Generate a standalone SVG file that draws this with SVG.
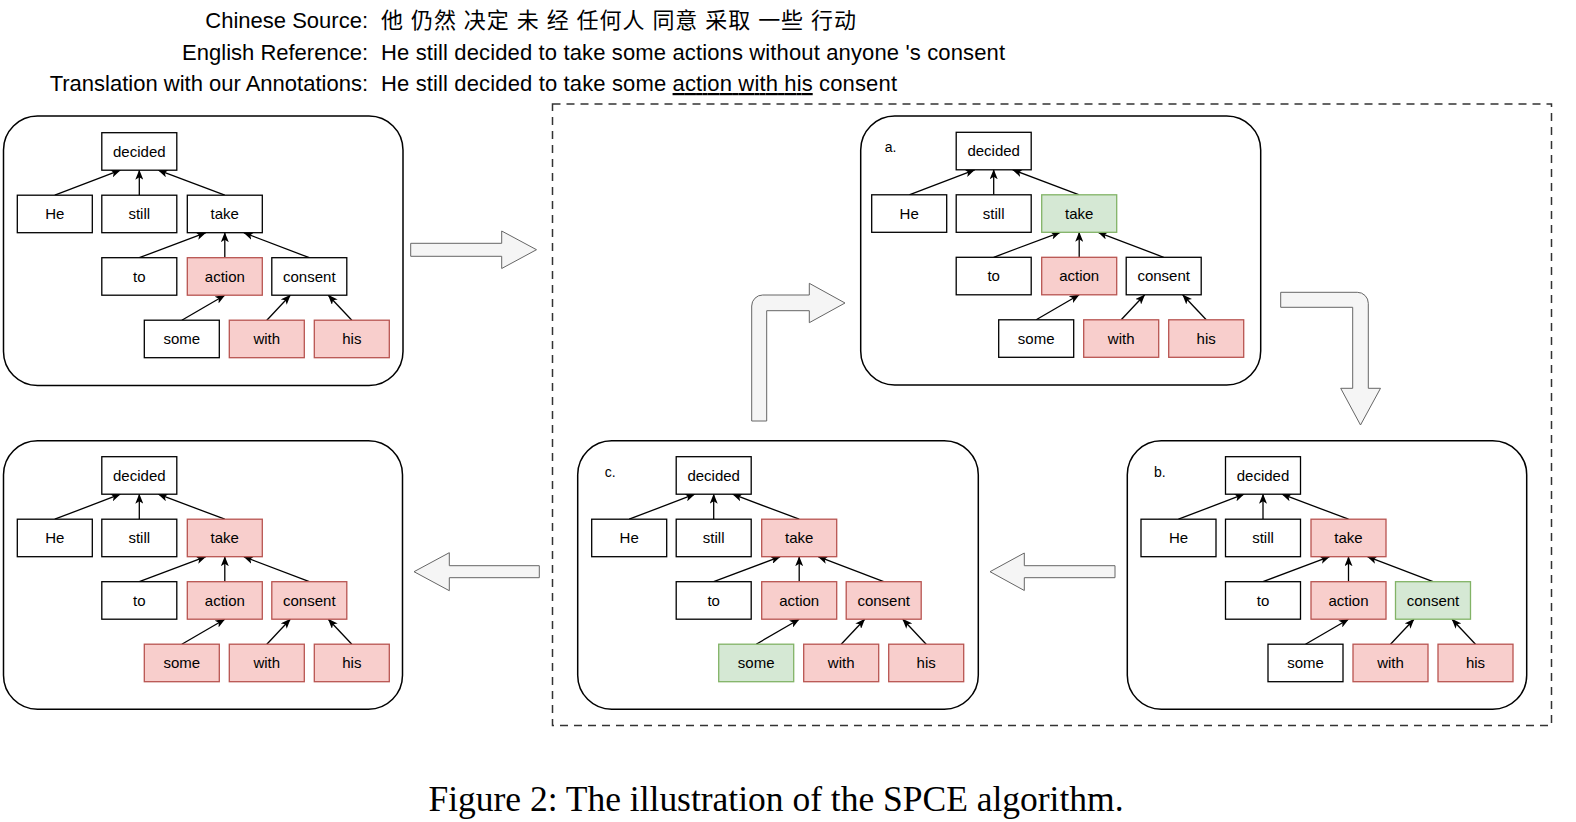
<svg xmlns="http://www.w3.org/2000/svg" xmlns:xlink="http://www.w3.org/1999/xlink" width="1576" height="822" viewBox="0 0 1576 822">
<style>
.hdr{font-family:"Liberation Sans",Arial,"Noto Sans CJK SC",sans-serif;font-size:22px;fill:#000}
.cap{font-family:"Liberation Serif","Times New Roman",serif;font-size:35.5px;fill:#000;text-anchor:middle}
.panel{fill:#fff;stroke:#000;stroke-width:1.5}
.n{fill:#fff;stroke:#000;stroke-width:1.3}
.r{fill:#f8cecc;stroke:#b85450;stroke-width:1.3}
.g{fill:#d5e8d4;stroke:#82b366;stroke-width:1.3}
.t{font-family:"Liberation Sans",Arial,sans-serif;font-size:15px;fill:#000;text-anchor:middle}
.lbl{font-family:"Liberation Sans",Arial,sans-serif;font-size:14px;fill:#000}
.e{stroke:#000;stroke-width:1.3;fill:none;marker-end:url(#ah)}
.big{fill:#f5f5f5;stroke:#666;stroke-width:1}
.dash{fill:none;stroke:#333;stroke-width:1.5;stroke-dasharray:8 6}
</style>
<defs>
<marker id="ah" markerUnits="userSpaceOnUse" viewBox="0 0 10 8" markerWidth="10" markerHeight="8" refX="9.5" refY="4" orient="auto">
<path d="M0,0 L10,4 L0,8 L2.5,4 Z" fill="#000"/>
</marker>
</defs>
<rect width="1576" height="822" fill="#fff"/>

<g id="header">
<text class="hdr" x="368" y="28" text-anchor="end">Chinese Source:</text>
<text class="hdr" x="381" y="28" textLength="475">他 仍然 决定 未 经 任何人 同意 采取 一些 行动</text>
<text class="hdr" x="368" y="60" text-anchor="end">English Reference:</text>
<text class="hdr" x="381" y="60" textLength="624">He still decided to take some actions without anyone 's consent</text>
<text class="hdr" x="368" y="91" text-anchor="end">Translation with our Annotations:</text>
<text class="hdr" x="381" y="91" textLength="516">He still decided to take some <tspan text-decoration="underline">action with his</tspan> consent</text>
</g>

<rect id="dashed-box" class="dash" x="552.5" y="104" width="999" height="621.5"/>

<g id="panel-boxes">
<rect id="panel-1" class="panel" x="3.5" y="116" width="399.5" height="269.5" rx="34"/>
<rect id="panel-a" class="panel" x="860.7" y="116" width="400" height="269" rx="34"/>
<rect id="panel-b" class="panel" x="1127.3" y="440.7" width="399.4" height="268.6" rx="34"/>
<rect id="panel-c" class="panel" x="577.7" y="440.7" width="400.6" height="268.6" rx="34"/>
<rect id="panel-4" class="panel" x="3.5" y="440.7" width="399" height="268.6" rx="34"/>
</g>

<g id="big-arrows">
<path id="arrow-1-a" class="big" d="M410.7,243.3 H501.7 V231 L536.5,249.7 L501.7,268.5 V256.3 H410.7 Z"/>
<path id="arrow-c-a" class="big" d="M751.7,421 V306 A11,11 0 0 1 762.7,295 H809.3 V283.3 L845,303 L809.3,322.7 V310.7 H766.7 V421 Z"/>
<path id="arrow-a-b" class="big" d="M1280.7,292.3 H1357.3 A11,11 0 0 1 1368.3,303.3 V388.3 H1380.5 L1360.5,425 L1340.7,388.3 H1352.7 V307.3 H1280.7 Z"/>
<path id="arrow-b-c" class="big" d="M1115,565.7 H1024.3 V553 L990,571.7 L1024.3,590.5 V577.7 H1115 Z"/>
<path id="arrow-c-4" class="big" d="M539.3,565.7 H449.3 V552.7 L414,571.7 L449.3,590.7 V577.7 H539.3 Z"/>
</g>

<g id="connectors">
<g transform="translate(17.3,132.7)">
<path class="e" d="M37.5,62.5 L103,37.5"/><path class="e" d="M122,62.5 L122,37.5"/><path class="e" d="M207.5,62.5 L141,37.5"/>
<path class="e" d="M122,125 L188.5,100"/><path class="e" d="M207.5,125 L207.5,100"/><path class="e" d="M292,125 L226.5,100"/>
<path class="e" d="M164.5,187.5 L207.5,162.5"/><path class="e" d="M249.5,187.5 L273,162.5"/><path class="e" d="M334.5,187.5 L311,162.5"/>
</g>
<g transform="translate(871.7,132.3)">
<path class="e" d="M37.5,62.5 L103,37.5"/><path class="e" d="M122,62.5 L122,37.5"/><path class="e" d="M207.5,62.5 L141,37.5"/>
<path class="e" d="M122,125 L188.5,100"/><path class="e" d="M207.5,125 L207.5,100"/><path class="e" d="M292,125 L226.5,100"/>
<path class="e" d="M164.5,187.5 L207.5,162.5"/><path class="e" d="M249.5,187.5 L273,162.5"/><path class="e" d="M334.5,187.5 L311,162.5"/>
</g>
<g transform="translate(1141,456.7)">
<path class="e" d="M37.5,62.5 L103,37.5"/><path class="e" d="M122,62.5 L122,37.5"/><path class="e" d="M207.5,62.5 L141,37.5"/>
<path class="e" d="M122,125 L188.5,100"/><path class="e" d="M207.5,125 L207.5,100"/><path class="e" d="M292,125 L226.5,100"/>
<path class="e" d="M164.5,187.5 L207.5,162.5"/><path class="e" d="M249.5,187.5 L273,162.5"/><path class="e" d="M334.5,187.5 L311,162.5"/>
</g>
<g transform="translate(591.7,456.7)">
<path class="e" d="M37.5,62.5 L103,37.5"/><path class="e" d="M122,62.5 L122,37.5"/><path class="e" d="M207.5,62.5 L141,37.5"/>
<path class="e" d="M122,125 L188.5,100"/><path class="e" d="M207.5,125 L207.5,100"/><path class="e" d="M292,125 L226.5,100"/>
<path class="e" d="M164.5,187.5 L207.5,162.5"/><path class="e" d="M249.5,187.5 L273,162.5"/><path class="e" d="M334.5,187.5 L311,162.5"/>
</g>
<g transform="translate(17.3,456.7)">
<path class="e" d="M37.5,62.5 L103,37.5"/><path class="e" d="M122,62.5 L122,37.5"/><path class="e" d="M207.5,62.5 L141,37.5"/>
<path class="e" d="M122,125 L188.5,100"/><path class="e" d="M207.5,125 L207.5,100"/><path class="e" d="M292,125 L226.5,100"/>
<path class="e" d="M164.5,187.5 L207.5,162.5"/><path class="e" d="M249.5,187.5 L273,162.5"/><path class="e" d="M334.5,187.5 L311,162.5"/>
</g>
</g>

<g id="tree-1" transform="translate(17.3,132.7)">
<g id="p1-decided"><rect class="n" x="84.5" y="0" width="75" height="37.5"/><text class="t" x="122" y="24">decided</text></g>
<g id="p1-he"><rect class="n" x="0" y="62.5" width="75" height="37.5"/><text class="t" x="37.5" y="86.5">He</text></g>
<g id="p1-still"><rect class="n" x="84.5" y="62.5" width="75" height="37.5"/><text class="t" x="122" y="86.5">still</text></g>
<g id="p1-take"><rect class="n" x="170" y="62.5" width="75" height="37.5"/><text class="t" x="207.5" y="86.5">take</text></g>
<g id="p1-to"><rect class="n" x="84.5" y="125" width="75" height="37.5"/><text class="t" x="122" y="149">to</text></g>
<g id="p1-action"><rect class="r" x="170" y="125" width="75" height="37.5"/><text class="t" x="207.5" y="149">action</text></g>
<g id="p1-consent"><rect class="n" x="254.5" y="125" width="75" height="37.5"/><text class="t" x="292" y="149">consent</text></g>
<g id="p1-some"><rect class="n" x="127" y="187.5" width="75" height="37.5"/><text class="t" x="164.5" y="211.5">some</text></g>
<g id="p1-with"><rect class="r" x="212" y="187.5" width="75" height="37.5"/><text class="t" x="249.5" y="211.5">with</text></g>
<g id="p1-his"><rect class="r" x="297" y="187.5" width="75" height="37.5"/><text class="t" x="334.5" y="211.5">his</text></g>
</g>

<g id="tree-a" transform="translate(871.7,132.3)">
<text class="lbl" x="13" y="20">a.</text>
<g id="pa-decided"><rect class="n" x="84.5" y="0" width="75" height="37.5"/><text class="t" x="122" y="24">decided</text></g>
<g id="pa-he"><rect class="n" x="0" y="62.5" width="75" height="37.5"/><text class="t" x="37.5" y="86.5">He</text></g>
<g id="pa-still"><rect class="n" x="84.5" y="62.5" width="75" height="37.5"/><text class="t" x="122" y="86.5">still</text></g>
<g id="pa-take"><rect class="g" x="170" y="62.5" width="75" height="37.5"/><text class="t" x="207.5" y="86.5">take</text></g>
<g id="pa-to"><rect class="n" x="84.5" y="125" width="75" height="37.5"/><text class="t" x="122" y="149">to</text></g>
<g id="pa-action"><rect class="r" x="170" y="125" width="75" height="37.5"/><text class="t" x="207.5" y="149">action</text></g>
<g id="pa-consent"><rect class="n" x="254.5" y="125" width="75" height="37.5"/><text class="t" x="292" y="149">consent</text></g>
<g id="pa-some"><rect class="n" x="127" y="187.5" width="75" height="37.5"/><text class="t" x="164.5" y="211.5">some</text></g>
<g id="pa-with"><rect class="r" x="212" y="187.5" width="75" height="37.5"/><text class="t" x="249.5" y="211.5">with</text></g>
<g id="pa-his"><rect class="r" x="297" y="187.5" width="75" height="37.5"/><text class="t" x="334.5" y="211.5">his</text></g>
</g>

<g id="tree-b" transform="translate(1141,456.7)">
<text class="lbl" x="13" y="20">b.</text>
<g id="pb-decided"><rect class="n" x="84.5" y="0" width="75" height="37.5"/><text class="t" x="122" y="24">decided</text></g>
<g id="pb-he"><rect class="n" x="0" y="62.5" width="75" height="37.5"/><text class="t" x="37.5" y="86.5">He</text></g>
<g id="pb-still"><rect class="n" x="84.5" y="62.5" width="75" height="37.5"/><text class="t" x="122" y="86.5">still</text></g>
<g id="pb-take"><rect class="r" x="170" y="62.5" width="75" height="37.5"/><text class="t" x="207.5" y="86.5">take</text></g>
<g id="pb-to"><rect class="n" x="84.5" y="125" width="75" height="37.5"/><text class="t" x="122" y="149">to</text></g>
<g id="pb-action"><rect class="r" x="170" y="125" width="75" height="37.5"/><text class="t" x="207.5" y="149">action</text></g>
<g id="pb-consent"><rect class="g" x="254.5" y="125" width="75" height="37.5"/><text class="t" x="292" y="149">consent</text></g>
<g id="pb-some"><rect class="n" x="127" y="187.5" width="75" height="37.5"/><text class="t" x="164.5" y="211.5">some</text></g>
<g id="pb-with"><rect class="r" x="212" y="187.5" width="75" height="37.5"/><text class="t" x="249.5" y="211.5">with</text></g>
<g id="pb-his"><rect class="r" x="297" y="187.5" width="75" height="37.5"/><text class="t" x="334.5" y="211.5">his</text></g>
</g>

<g id="tree-c" transform="translate(591.7,456.7)">
<text class="lbl" x="13" y="20">c.</text>
<g id="pc-decided"><rect class="n" x="84.5" y="0" width="75" height="37.5"/><text class="t" x="122" y="24">decided</text></g>
<g id="pc-he"><rect class="n" x="0" y="62.5" width="75" height="37.5"/><text class="t" x="37.5" y="86.5">He</text></g>
<g id="pc-still"><rect class="n" x="84.5" y="62.5" width="75" height="37.5"/><text class="t" x="122" y="86.5">still</text></g>
<g id="pc-take"><rect class="r" x="170" y="62.5" width="75" height="37.5"/><text class="t" x="207.5" y="86.5">take</text></g>
<g id="pc-to"><rect class="n" x="84.5" y="125" width="75" height="37.5"/><text class="t" x="122" y="149">to</text></g>
<g id="pc-action"><rect class="r" x="170" y="125" width="75" height="37.5"/><text class="t" x="207.5" y="149">action</text></g>
<g id="pc-consent"><rect class="r" x="254.5" y="125" width="75" height="37.5"/><text class="t" x="292" y="149">consent</text></g>
<g id="pc-some"><rect class="g" x="127" y="187.5" width="75" height="37.5"/><text class="t" x="164.5" y="211.5">some</text></g>
<g id="pc-with"><rect class="r" x="212" y="187.5" width="75" height="37.5"/><text class="t" x="249.5" y="211.5">with</text></g>
<g id="pc-his"><rect class="r" x="297" y="187.5" width="75" height="37.5"/><text class="t" x="334.5" y="211.5">his</text></g>
</g>

<g id="tree-4" transform="translate(17.3,456.7)">
<g id="p4-decided"><rect class="n" x="84.5" y="0" width="75" height="37.5"/><text class="t" x="122" y="24">decided</text></g>
<g id="p4-he"><rect class="n" x="0" y="62.5" width="75" height="37.5"/><text class="t" x="37.5" y="86.5">He</text></g>
<g id="p4-still"><rect class="n" x="84.5" y="62.5" width="75" height="37.5"/><text class="t" x="122" y="86.5">still</text></g>
<g id="p4-take"><rect class="r" x="170" y="62.5" width="75" height="37.5"/><text class="t" x="207.5" y="86.5">take</text></g>
<g id="p4-to"><rect class="n" x="84.5" y="125" width="75" height="37.5"/><text class="t" x="122" y="149">to</text></g>
<g id="p4-action"><rect class="r" x="170" y="125" width="75" height="37.5"/><text class="t" x="207.5" y="149">action</text></g>
<g id="p4-consent"><rect class="r" x="254.5" y="125" width="75" height="37.5"/><text class="t" x="292" y="149">consent</text></g>
<g id="p4-some"><rect class="r" x="127" y="187.5" width="75" height="37.5"/><text class="t" x="164.5" y="211.5">some</text></g>
<g id="p4-with"><rect class="r" x="212" y="187.5" width="75" height="37.5"/><text class="t" x="249.5" y="211.5">with</text></g>
<g id="p4-his"><rect class="r" x="297" y="187.5" width="75" height="37.5"/><text class="t" x="334.5" y="211.5">his</text></g>
</g>

<text id="caption" class="cap" x="776" y="811" textLength="695">Figure 2: The illustration of the SPCE algorithm.</text>
</svg>
